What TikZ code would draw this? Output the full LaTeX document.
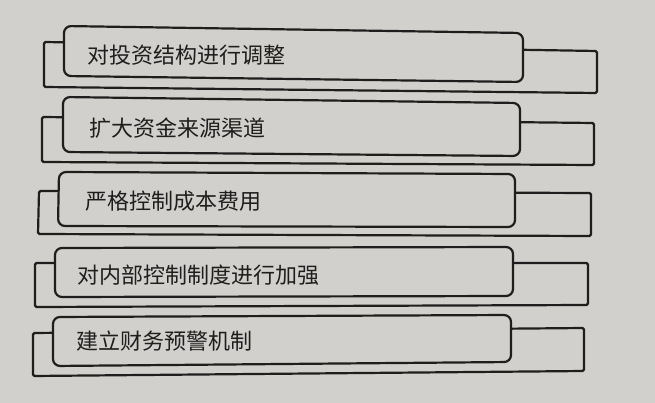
\documentclass[tikz,border=0pt]{standalone}
\usepackage{fontspec}
\newfontfamily\cjk{Noto Sans CJK SC}
\definecolor{paper}{HTML}{D1D0CC}
\definecolor{ink}{HTML}{1E1E1E}
\tikzset{
  backshape/.style={draw=ink, line width=2.2pt, fill=paper, rounded corners=1.5pt},
  boxshape/.style={draw=ink, line width=2.2pt, fill=paper, rounded corners=7pt},
  label/.style={anchor=west, inner sep=0pt, text=ink, font=\cjk\fontsize{22pt}{24pt}\selectfont}
}
\begin{document}
\begin{tikzpicture}[x=1pt,y=-1pt]
\useasboundingbox (0,0) rectangle (655,403);
\fill[paper] (0,0) rectangle (655,403);
% Row 1
\draw[backshape] (44,42) -- (597,51) -- (597,93) -- (44,87) -- cycle;
\draw[boxshape] (64,26) -- (523,33) -- (523,82) -- (64,76) -- cycle;
\node[label] (t1) at (87,55) {对投资结构进行调整};
% Row 2
\draw[backshape] (42,117) -- (594,123) -- (594,165) -- (42,162) -- cycle;
\draw[boxshape] (63,97) -- (520,103) -- (520,156) -- (63,152) -- cycle;
\node[label] (t2) at (89,128.5) {扩大资金来源渠道};
% Row 3
\draw[backshape] (39,191) -- (591,193) -- (591,236) -- (38,234) -- cycle;
\draw[boxshape] (59,172) -- (515,174) -- (515,227) -- (58,226) -- cycle;
\node[label] (t3) at (85,201.5) {严格控制成本费用};
% Row 4
\draw[backshape] (35,263) -- (588,263) -- (588,305) -- (35,307) -- cycle;
\draw[boxshape] (55,248) -- (513,247) -- (513,296) -- (55,297) -- cycle;
\node[label] (t4) at (77,275) {对内部控制制度进行加强};
% Row 5
\draw[backshape] (33,333) -- (584,328) -- (584,371) -- (33,376) -- cycle;
\draw[boxshape] (53,317) -- (511,315) -- (511,362) -- (53,366) -- cycle;
\node[label] (t5) at (76,341.5) {建立财务预警机制};
\end{tikzpicture}
\end{document}
